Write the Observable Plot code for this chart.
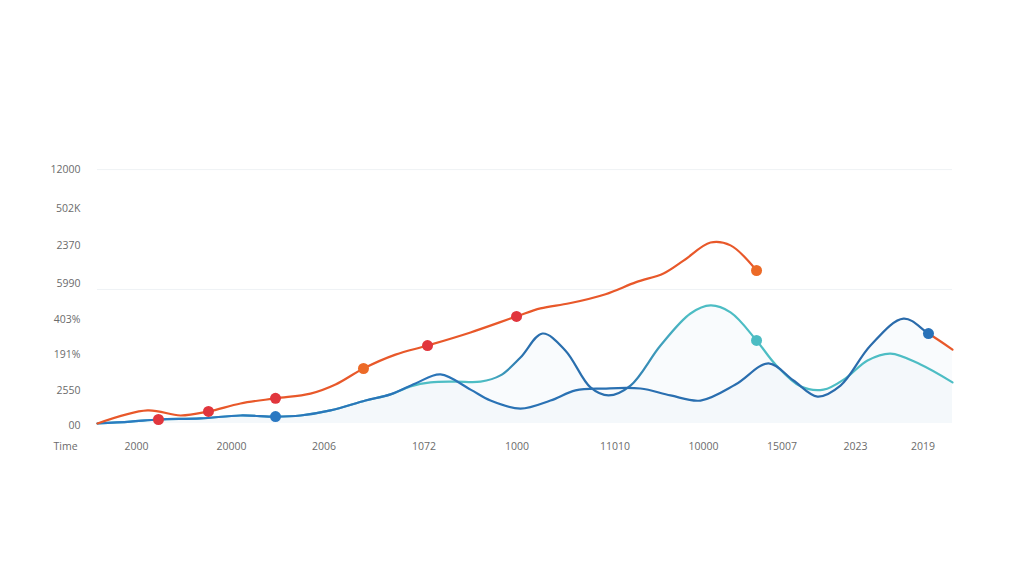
<!DOCTYPE html>
<html>
<head>
<meta charset="utf-8">
<script src="https://cdn.jsdelivr.net/npm/d3@7"></script>
<script src="https://cdn.jsdelivr.net/npm/@observablehq/plot@0.6"></script>
<style>
  html, body { margin: 0; padding: 0; background: #ffffff; }
  #chart svg { display: block; }
</style>
</head>
<body>
<div id="chart"></div>
<script>
// ---- Data (x in position units 0..100, y in axis units 0..7) ----
const xTickPos    = [4.56, 15.67, 26.49, 38.19, 49.06, 60.53, 70.88, 80.06, 88.65, 96.55];
const xTickLabels = ["2000", "20000", "2006", "1072", "1000", "11010", "10000", "15007", "2023", "2019"];
const yTickPos    = [-0.05, 0.91, 1.89, 2.85, 3.84, 4.89, 5.9, 6.97];
const yTickLabels = ["00", "2550", "191%", "403%", "5990", "2370", "502K", "12000"];
const gridY       = [6.97, 3.68];

// Orange series
const orangeX = [0, 5.85, 9.71, 12.98, 16.73, 20.82, 24.91, 27.84, 31.11, 34.85, 38.6, 43.63, 49.01, 51.81, 55.2, 59.42, 63.0, 66.2, 68.54, 71.7, 74.04, 77.08];
const orangeY = [0, 0.36, 0.22, 0.33, 0.55, 0.69, 0.82, 1.07, 1.51, 1.89, 2.14, 2.5, 2.94, 3.16, 3.3, 3.55, 3.88, 4.12, 4.47, 4.97, 4.89, 4.2];

// Blue series
const blueX = [0, 3.86, 7.13, 12.05, 16.73, 20.82, 23.74, 27.25, 31.35, 34.27, 37.19, 40.12, 43.63, 45.96, 49.47, 52.98, 55.91, 59.18, 63.51, 67.02, 70.53, 74.62, 78.48, 81.4, 84.21, 86.9, 90.41, 94.27, 97.19, 100];
const blueY = [0, 0.05, 0.11, 0.14, 0.22, 0.19, 0.22, 0.36, 0.63, 0.8, 1.1, 1.35, 0.93, 0.63, 0.41, 0.63, 0.91, 0.96, 0.96, 0.77, 0.63, 1.07, 1.65, 1.18, 0.74, 1.04, 2.14, 2.88, 2.47, 2.03];

// Teal series
const tealX = [0, 3.86, 7.13, 12.05, 16.73, 20.82, 23.74, 27.25, 31.35, 34.27, 36.61, 38.95, 41.87, 44.8, 47.13, 49.47, 52.05, 54.74, 57.66, 59.77, 62.34, 65.85, 69.36, 71.7, 74.04, 77.08, 79.3, 82.22, 84.91, 87.49, 90.06, 92.75, 96.26, 100];
const tealY = [0, 0.05, 0.11, 0.14, 0.22, 0.19, 0.22, 0.36, 0.63, 0.8, 1.02, 1.13, 1.15, 1.15, 1.32, 1.81, 2.47, 2.0, 0.99, 0.77, 1.04, 2.14, 3.02, 3.24, 3.05, 2.28, 1.62, 1.02, 0.93, 1.24, 1.73, 1.92, 1.62, 1.13];

// Highlighted points
const dotX     = [7.13, 12.98, 20.82, 31.11, 38.6, 49.01, 77.08, 20.82, 97.19, 77.08];
const dotY     = [0.11, 0.33, 0.69, 1.51, 2.14, 2.94, 4.2, 0.19, 2.47, 2.28];
const dotColor = ["#e1363d", "#e1363d", "#e1363d", "#ec6a27", "#e1363d", "#e1363d", "#ec6a27", "#2a78c2", "#2a72b8", "#4cbcc3"];

// ---- Build tables ----
const orange = orangeX.map((x, i) => ({x, y: orangeY[i]}));
const blue   = blueX.map((x, i) => ({x, y: blueY[i]}));
const teal   = tealX.map((x, i) => ({x, y: tealY[i]}));
const dots   = dotX.map((x, i) => ({x, y: dotY[i], c: dotColor[i]}));
const xLab = new Map(xTickPos.map((p, i) => [p, xTickLabels[i]]));
const yLab = new Map(yTickPos.map((p, i) => [p, yTickLabels[i]]));

const textColor = "#6b6b6b";

const plot = Plot.plot({
  width: 1024,
  height: 585,
  marginLeft: 97,
  marginRight: 72,
  marginTop: 168,
  marginBottom: 162,
  style: {fontFamily: "'Open Sans', sans-serif", fontSize: "10.5px", color: textColor, background: "#ffffff"},
  x: {domain: [0, 100]},
  y: {domain: [0, 7]},
  color: {type: "identity"},
  marks: [
    Plot.ruleY(gridY, {stroke: "#eff2f5", strokeWidth: 1}),
    Plot.areaY(teal, {x: "x", y: "y", curve: "catmull-rom", fill: "#e2eef8", fillOpacity: 0.22}),
    Plot.areaY(blue, {x: "x", y: "y", curve: "catmull-rom", fill: "#e2eef8", fillOpacity: 0.22}),
    Plot.line(teal, {x: "x", y: "y", curve: "catmull-rom", stroke: "url(#gradTeal)", strokeWidth: 2.2}),
    Plot.line(blue, {x: "x", y: "y", curve: "catmull-rom", stroke: "url(#gradBlue)", strokeWidth: 2.2}),
    Plot.line(orange, {x: "x", y: "y", curve: "catmull-rom", stroke: "#e8582a", strokeWidth: 2.2}),
    Plot.dot(dots, {x: "x", y: "y", r: 5.5, fill: "c", stroke: "none"}),
    Plot.axisX({ticks: xTickPos, tickFormat: d => xLab.get(d), tickSize: 0, tickPadding: 19, label: null, fill: textColor}),
    Plot.axisY({ticks: yTickPos, tickFormat: d => yLab.get(d), tickSize: 0, tickPadding: 17, label: null, fill: textColor}),
    Plot.text(["Time"], {frameAnchor: "bottom-left", dx: -44, dy: 23, textAnchor: "start", lineAnchor: "middle", fill: textColor})
  ]
});

// gradients for the two blue-family lines (objectBoundingBox: fraction of the x span 0..100)
const defs = d3.select(plot).insert("defs", ":first-child");
const gT = defs.append("linearGradient").attr("id", "gradTeal").attr("x1", "0").attr("x2", "1").attr("y1", "0").attr("y2", "0");
[[0, "#4dbdc4"], [0.45, "#4dbdc4"], [0.5, "#2a6fae"], [0.61, "#2a6fae"], [0.69, "#4dbdc4"], [1, "#4dbdc4"]]
  .forEach(([o, c]) => gT.append("stop").attr("offset", o).attr("stop-color", c));
const gB = defs.append("linearGradient").attr("id", "gradBlue").attr("x1", "0").attr("x2", "1").attr("y1", "0").attr("y2", "0");
[[0, "#2b7cc2"], [0.5, "#2a72b4"], [0.969, "#2a6aaa"], [0.975, "#e8582a"], [1, "#e8582a"]]
  .forEach(([o, c]) => gB.append("stop").attr("offset", o).attr("stop-color", c));

document.getElementById("chart").appendChild(plot);
</script>
</body>
</html>
